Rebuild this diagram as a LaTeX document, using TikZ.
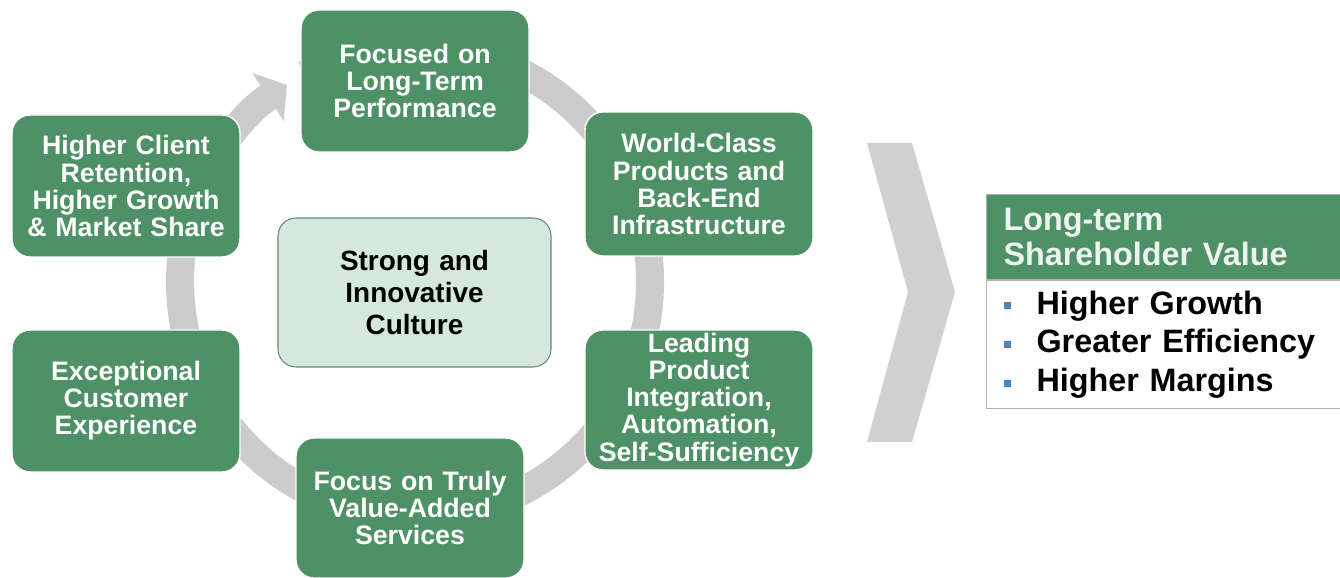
\documentclass[tikz,border=0pt]{standalone}
\usepackage{fontspec}
\setmainfont{Liberation Sans}
\usepackage{tikz}
\usetikzlibrary{arrows.meta, positioning, calc}
\definecolor{green1}{RGB}{79, 145, 103}
\definecolor{mint1}{RGB}{213, 232, 221}
\definecolor{ring1}{RGB}{203, 203, 203}
\definecolor{blue1}{RGB}{79, 129, 189}
\newcommand{\sqbul}{\textcolor{blue1}{\rule[0.3ex]{0.14cm}{0.14cm}}}

\begin{document}
\begin{tikzpicture}[
    cycbox/.style={draw=white, line width=0.8pt, fill=green1, rounded corners=0.36cm,
      minimum width=4.56cm, minimum height=2.84cm, text width=4.4cm, align=center,
      inner sep=1pt, text=white, font=\fontsize{15.2}{15.4}\selectfont\bfseries},
    corebox/.style={draw=green1!45!gray, line width=0.6pt, fill=mint1, rounded corners=0.36cm,
      minimum width=5.46cm, minimum height=2.98cm, text width=5cm, align=center,
      font=\fontsize{15.9}{18}\selectfont\bfseries},
    valbox/.style={draw=gray!60, line width=0.6pt, minimum width=7.2cm, text width=6.52cm,
      inner xsep=0.34cm, align=left, font=\fontsize{18.4}{20.4}\selectfont\bfseries},
    ringline/.style={ring1, line width=0.56cm}
  ]
  \useasboundingbox (0,0) rectangle (26.8,11.56);

  \coordinate (rc) at (8.3,5.92);
  \draw[ringline] (rc) ++(118:4.7) arc[start angle=118, end angle=-200, radius=4.7];
  \draw[ringline, -{Triangle[width=1.12cm, length=0.45cm]}]
    (rc) ++(160:4.7) arc[start angle=160, end angle=123, radius=4.7];

  \node[cycbox] (foc) at (8.3,9.94) {Focused on\\Long-Term\\Performance};
  \node[cycbox, minimum height=2.88cm] (wcp) at (13.98,7.88) {World-Class\\Products and\\Back-End\\Infrastructure};
  \node[cycbox, minimum height=2.8cm] (lpi) at (13.98,3.56) {Leading\\Product\\Integration,\\Automation,\\Self-Sufficiency};
  \node[cycbox, minimum height=2.8cm] (vas) at (8.2,1.4) {Focus on Truly\\Value-Added\\Services};
  \node[cycbox] (exc) at (2.52,3.54) {Exceptional\\Customer\\Experience};
  \node[cycbox] (ret) at (2.52,7.84) {Higher Client\\Retention,\\Higher Growth\\\& Market Share};
  \node[corebox] (cul) at (8.29,5.71) {Strong and\\Innovative\\Culture};

  \fill[ring1!90!white] (17.34,8.7) -- (18.24,8.7) -- (19.1,5.72) -- (18.24,2.72)
    -- (17.34,2.72) -- (18.16,5.72) -- cycle;

  \node[valbox, fill=green1, text=white!90!green1, minimum height=1.7cm, anchor=north west]
    (hdr) at (19.72,7.68) {Long-term\\Shareholder Value};
  \node[valbox, fill=white, minimum height=2.56cm, anchor=north west,
    font=\fontsize{18.4}{22.1}\selectfont\bfseries] (lst) at (hdr.south west)
    {\sqbul\hspace{0.52cm}Higher Growth\\\sqbul\hspace{0.52cm}Greater Efficiency\\\sqbul\hspace{0.52cm}Higher Margins};
\end{tikzpicture}
\end{document}
